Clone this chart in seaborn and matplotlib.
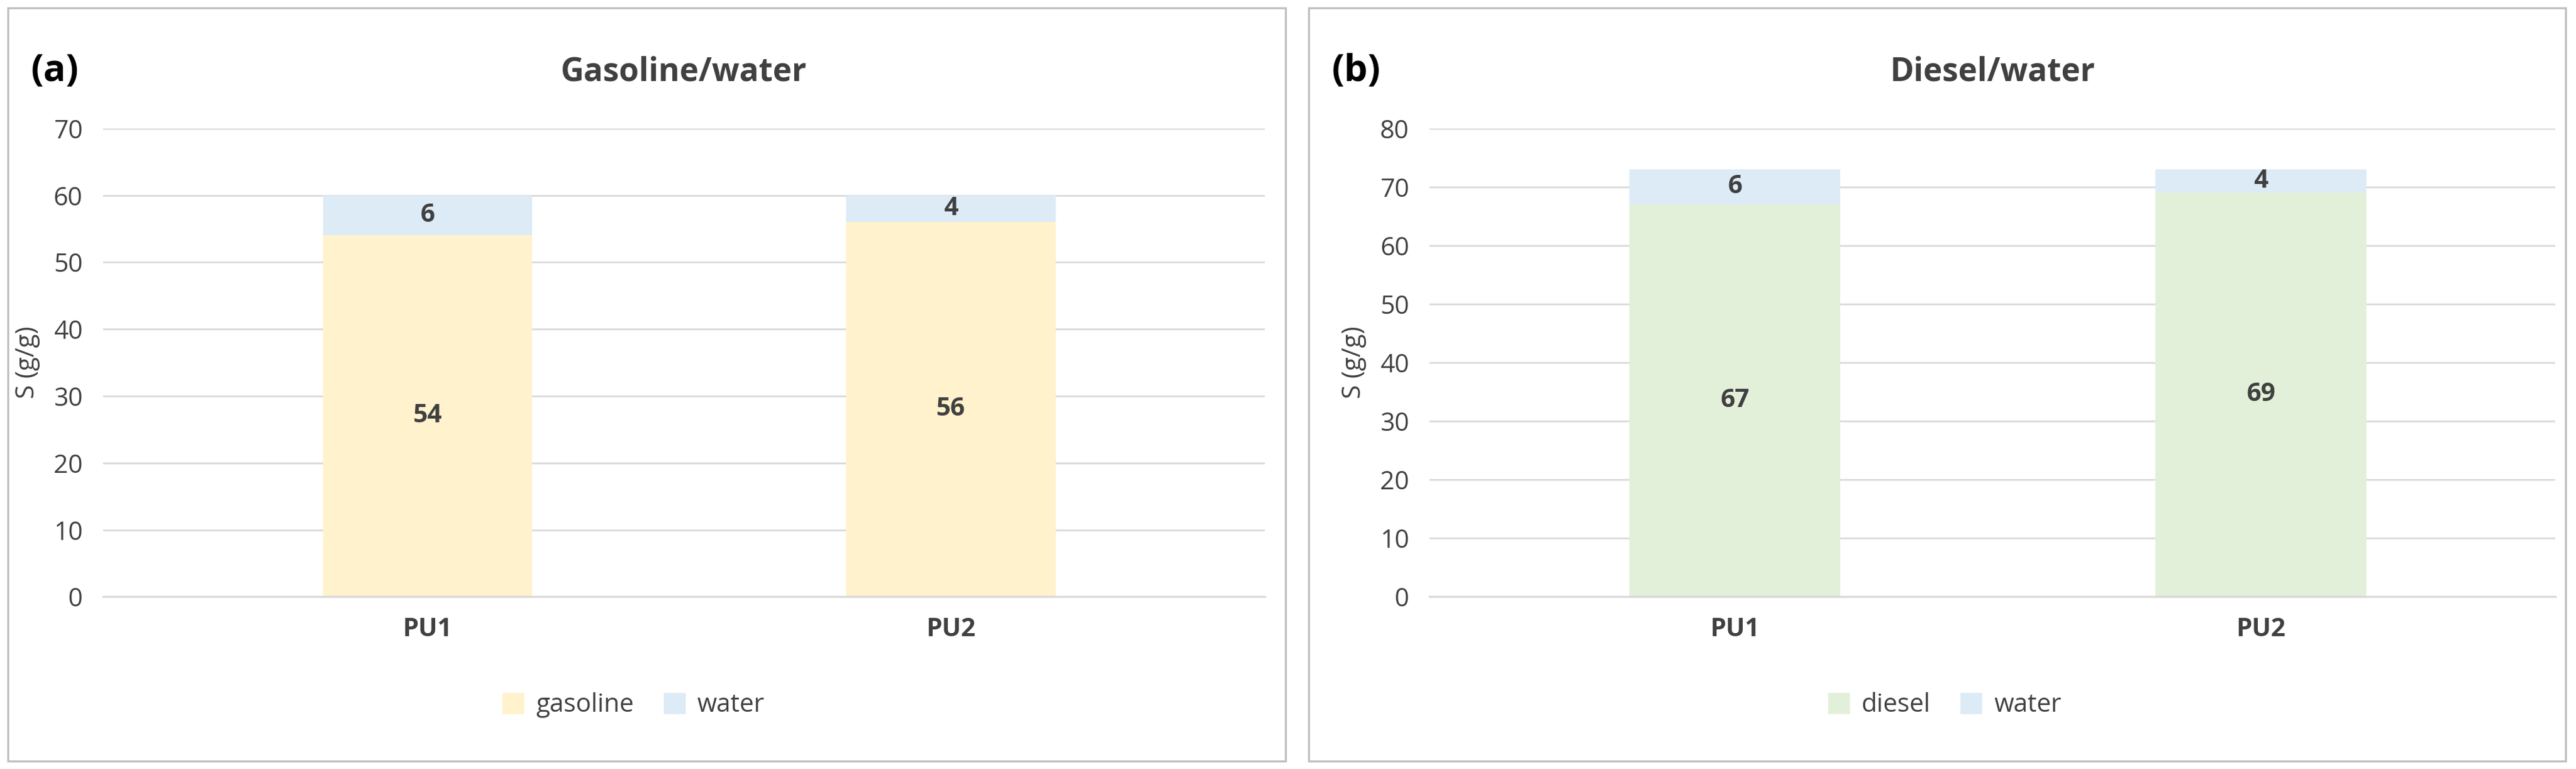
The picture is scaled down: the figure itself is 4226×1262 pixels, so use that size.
import matplotlib
matplotlib.use("Agg")
import matplotlib.pyplot as plt
import seaborn as sns
import pandas as pd
from matplotlib.patches import Rectangle, Patch

sns.set_theme(style="white")
plt.rcParams['font.family'] = ['Open Sans', 'DejaVu Sans']

categories = ["PU1", "PU2"]
gasoline = [54, 56]
water_a = [6, 4]
diesel = [67, 69]
water_b = [6, 4]

C_GAS = "#FFF2CC"
C_DIE = "#E2F0D9"
C_WAT = "#DDEBF7"
TXT = "#404040"

fig = plt.figure(figsize=(21.13, 6.31), dpi=200)

def panel(rect, box, base, water, c_base, base_name, title, letter, ymax, legx, xlim):
    fig.patches.append(Rectangle((box[0], box[1]), box[2], box[3], transform=fig.transFigure,
                                 fill=False, edgecolor="#BFBFBF", lw=1.2))
    ax = fig.add_axes(rect)
    df = pd.DataFrame({"cat": categories, "base": base,
                       "total": [b + w for b, w in zip(base, water)]})
    sns.barplot(data=df, x="cat", y="total", color=C_WAT, saturation=1, width=0.4, ax=ax, linewidth=0)
    sns.barplot(data=df, x="cat", y="base", color=c_base, saturation=1, width=0.4, ax=ax, linewidth=0)
    for i, (b, w) in enumerate(zip(base, water)):
        ax.text(i, b / 2, str(b), ha="center", va="center", fontsize=15, fontweight="bold", color=TXT)
        ax.text(i, b + w / 2, str(w), ha="center", va="center", fontsize=15, fontweight="bold", color=TXT)
    ax.set_xlim(*xlim)
    ax.set_ylim(0, ymax)
    ax.set_yticks(range(0, ymax + 1, 10))
    ax.yaxis.grid(True, color="#D9D9D9", lw=1)
    ax.set_axisbelow(True)
    for s in ["top", "right", "left"]:
        ax.spines[s].set_visible(False)
    ax.spines["bottom"].set_color("#D9D9D9")
    ax.tick_params(axis="y", labelsize=15, labelcolor=TXT, length=0, pad=12)
    ax.tick_params(axis="x", labelsize=15, labelcolor=TXT, length=0, pad=12)
    for t in ax.get_xticklabels():
        t.set_fontweight("bold")
    ax.set_xlabel("")
    ax.set_ylabel("S (g/g)", fontsize=15, color=TXT, labelpad=8)
    ax.set_title(title, fontsize=19, fontweight="bold", color=TXT, pad=28)
    fig.text(box[0] + 0.009, 0.895, letter, fontsize=22, fontweight="bold", color="black")
    handles = [Patch(color=c_base, label=base_name), Patch(color=C_WAT, label="water")]
    fig.legend(handles=handles, loc="center", bbox_to_anchor=(legx, 0.083), ncol=2, frameon=False,
               fontsize=15, handlelength=0.8, handleheight=0.8, columnspacing=1.2, handletextpad=0.5,
               labelcolor=TXT)
    return ax

panel([0.040, 0.224, 0.451, 0.609], (0.003, 0.01, 0.496, 0.98), gasoline, water_a, C_GAS,
      "gasoline", "Gasoline/water", "(a)", 70, 0.246, (-0.62, 1.6))
panel([0.555, 0.224, 0.437, 0.609], (0.508, 0.01, 0.488, 0.98), diesel, water_b, C_DIE,
      "diesel", "Diesel/water", "(b)", 80, 0.755, (-0.58, 1.56))

fig.savefig("out.png", dpi=200)
